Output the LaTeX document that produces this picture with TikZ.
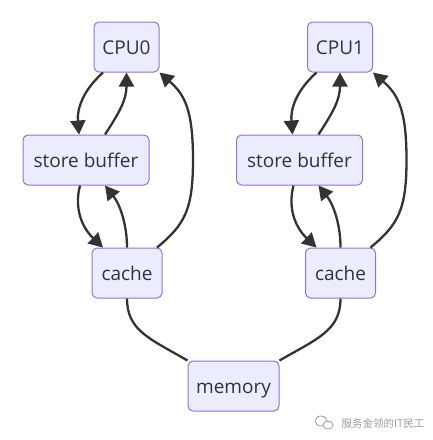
\documentclass[tikz,border=0pt]{standalone}
\usepackage{fontspec}
\setmainfont{Open Sans}
\newfontfamily\cjk{Noto Sans CJK SC}
\usetikzlibrary{arrows.meta, calc}
\definecolor{cfill}{HTML}{ECECFF}
\definecolor{cline}{HTML}{9370DB}
\definecolor{cedge}{HTML}{333333}
\definecolor{cmark}{HTML}{9A9A9A}
\tikzset{
  box/.style={draw=cline, fill=cfill, line width=1pt, rounded corners=5pt, minimum height=50pt,
    minimum width=#1, text=cedge, font=\fontsize{19}{23}\selectfont, text height=18pt, text depth=3pt},
  arr/.style={-{Triangle[length=14pt,width=15pt]}, draw=cedge, line width=2.3pt},
  link/.style={draw=cedge, line width=2.3pt},
  wmark/.style={font=\cjk\fontsize{10.5}{12}\selectfont, text=cmark},
}

\begin{document}
\begin{tikzpicture}[x=1pt, y=-1pt]
  \useasboundingbox (0,0) rectangle (433,440);
  % the two cores, side by side
  \foreach \i/\dx in {0/0, 1/213.5} {
    \begin{scope}[xshift=\dx pt]
      \node[box=65pt] (cpu\i) at (126.5,47) {CPU\i};
      \node[box=126pt] (sb\i) at (86,160) {store buffer};
      \node[box=70pt] (cache\i) at (127,273) {cache};
    \end{scope}
    \draw[arr] ([xshift=-23.5pt]cpu\i.south) .. controls +(-21,19) and +(-2,-25) .. ([xshift=-7pt]sb\i.north);
    \draw[arr] ([xshift=19pt]sb\i.north) .. controls +(15,-23) and +(0,27) .. (cpu\i.south);
    \draw[arr] ([xshift=30pt]cache\i.north) .. controls +(28,-23) and +(0,50) .. ($(cache\i.north)+(66,-88)$)
      .. controls +(0,-50) and +(25,22) .. (cpu\i.south east);
    \draw[arr] ([xshift=-6pt]sb\i.south) .. controls +(-6,23) and +(-21,-20) .. ([xshift=-24pt]cache\i.north);
    \draw[arr] (cache\i.north) .. controls +(0,-23) and +(15,19) .. ([xshift=19pt]sb\i.south);
  }
  \node[box=91pt] (mem) at (233.5,386) {memory};
  \draw[link] (cache0.south) .. controls +(0,32) and +(-38,-22) .. (mem.north west);
  \draw[link] (cache1.south) .. controls +(0,32) and +(38,-22) .. (mem.north east);
  % watermark
  \draw[cmark, line width=0.8pt, fill=white] (321,421) ellipse (6pt and 5pt);
  \draw[cmark, line width=0.8pt, fill=white] (328,425) ellipse (5pt and 4pt);
  \node[wmark, anchor=west] (wm) at (338,423) {服务金领的IT民工};
\end{tikzpicture}
\end{document}
